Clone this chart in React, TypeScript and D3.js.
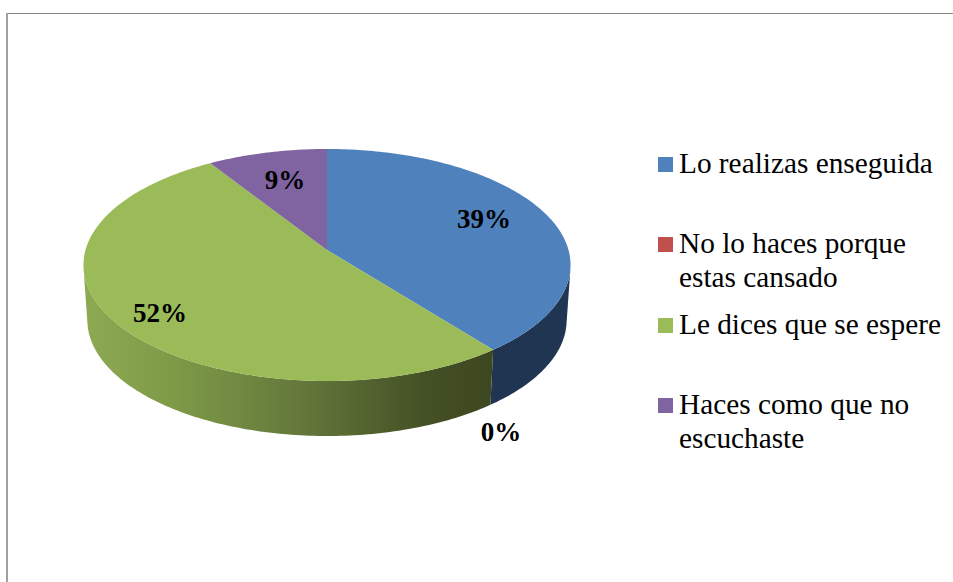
import React from 'react';
import * as d3 from 'd3';

const categories = ['Lo realizas enseguida', 'No lo haces porque estas cansado', 'Le dices que se espere', 'Haces como que no escuchaste'];
const values = [39.4, 0, 51.6, 9.0];
const colors = ['#4F81BD', '#C0504D', '#9BBB59', '#8064A2'];
const sideColors = ['#1F3552', '#7A3432', 'url(#greenSide)', '#54406C'];

// legend text, wrapped the way the picture wraps it
const legendLines = [['Lo realizas enseguida'], ['No lo haces porque', 'estas cansado'], ['Le dices que se espere'], ['Haces como que no', 'escuchaste']];
const legendTop = [157, 237, 318, 398];
const labelPos = [[484, 228], [501, 441], [160, 322], [285, 189]];

const width = 953;
const height = 582;
const fontFamily = '"Liberation Serif", "Times New Roman", serif';

// perspective projection of the pie plane, the apex sits above the ellipse centre
const cx = 327;
const cy = 250;
const A = 241.5;
const B = 114.06;
const p = 0.1293;
const depth = 55;
const bottomScale = 0.984;

const project = (a: number): [number, number] => {
  const u = Math.sin(a);
  const v = -Math.cos(a);
  const w = 1 - p * v;
  return [cx + (A * u) / w, cy + (B * v) / w];
};
const lower = ([x, y]: [number, number]): [number, number] => [cx + (x - cx) * bottomScale, y + depth];

const pie = d3.pie<number>().sort(null)(values);
const line = d3.line();

const rim = (d: d3.PieArcDatum<number>) => {
  const n = Math.max(2, Math.ceil((d.endAngle - d.startAngle) * 60));
  return d3.range(n + 1).map((i) => project(d.startAngle + ((d.endAngle - d.startAngle) * i) / n));
};

// wall is swept strip by strip, only the strips that face the viewer are kept
const wall = (d: d3.PieArcDatum<number>) => {
  const top = rim(d);
  return d3
    .pairs(top)
    .map(([a, b]) => [a, b, lower(b), lower(a)] as [number, number][])
    .filter((q) => d3.polygonArea(q) > 0)
    .map((q) => line(q) + 'Z')
    .join('');
};

export default function App() {
  return (
    <svg width={width} height={height} style={{ position: 'absolute', left: 0, top: 0, background: '#fff' }}>
      <defs>
        <linearGradient id="greenSide" gradientUnits="userSpaceOnUse" x1={85} x2={490} y1={0} y2={0}>
          <stop offset="0" stopColor="#8DA952" />
          <stop offset="0.22" stopColor="#7E9A47" />
          <stop offset="0.55" stopColor="#62763A" />
          <stop offset="0.85" stopColor="#434F24" />
          <stop offset="1" stopColor="#3E4820" />
        </linearGradient>
      </defs>

      {/* frame */}
      <line x1={6} x2={width} y1={13.5} y2={13.5} stroke="#868686" strokeWidth={1} />
      <line x1={7} x2={7} y1={13} y2={height} stroke="#A0A0A0" strokeWidth={2} />

      {/* side wall */}
      {pie.map((d, i) => {
        if (d.endAngle === d.startAngle) return null;
        return <path key={i} d={wall(d)} fill={sideColors[i]} />;
      })}

      {/* top face */}
      {pie.map((d, i) => {
        if (d.endAngle === d.startAngle) return null;
        return <path key={i} d={line([[cx, cy], ...rim(d)]) + 'Z'} fill={colors[i]} />;
      })}

      {/* data labels */}
      {values.map((v, i) => (
        <text key={i} x={labelPos[i][0]} y={labelPos[i][1]} textAnchor="middle" fontFamily={fontFamily} fontWeight="bold" fontSize={27} fill="#000">
          {d3.format('.0f')(v) + '%'}
        </text>
      ))}

      {/* legend */}
      {categories.map((c, i) => (
        <g key={c}>
          <rect x={658} y={legendTop[i]} width={15} height={15} fill={colors[i]} />
          {legendLines[i].map((t, j) => (
            <text key={j} x={679} y={legendTop[i] + 16 + j * 34} fontFamily={fontFamily} fontSize={29.3} fill="#000">
              {t}
            </text>
          ))}
        </g>
      ))}
    </svg>
  );
}
